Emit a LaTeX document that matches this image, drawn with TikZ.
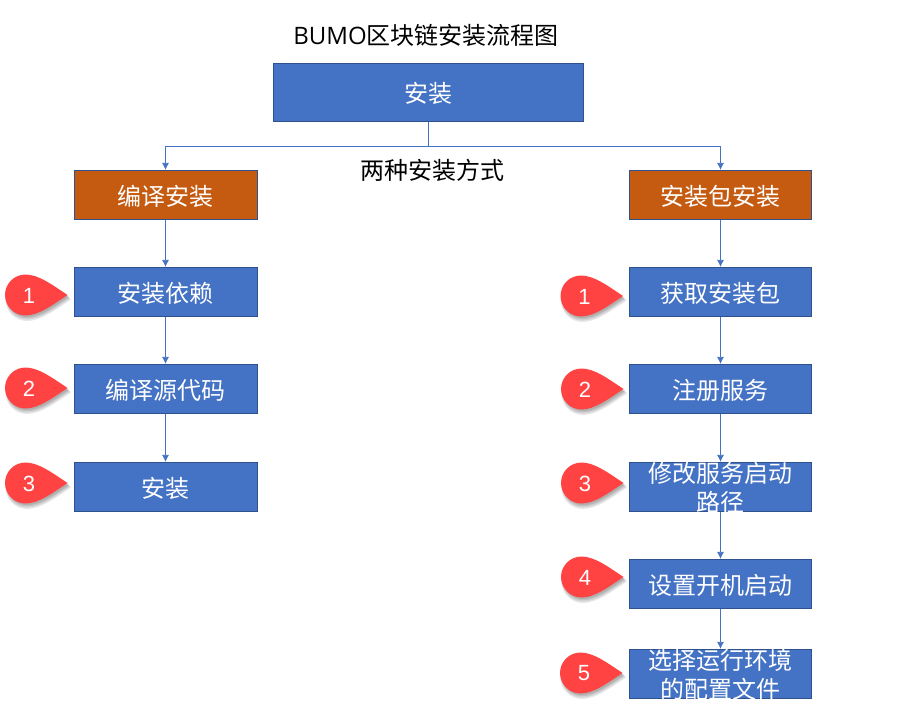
\documentclass[tikz,border=0pt]{standalone}
\usepackage{fontspec}
\setmainfont{Noto Sans CJK SC}
\newfontfamily\latinfont{Open Sans}
\newfontfamily\numfont{Liberation Sans}
\usetikzlibrary{arrows.meta,positioning,calc}
\definecolor{boxblue}{HTML}{4472C4}
\definecolor{boxedge}{HTML}{2F528F}
\definecolor{boxorange}{HTML}{C55A11}
\definecolor{badgered}{HTML}{FF4343}
\def\badgepath{(42pt,0pt) .. controls (27pt,10pt) and (13pt,20.5pt) .. (0pt,20.5pt)
  arc (90:270:20.5pt) .. controls (13pt,-20.5pt) and (27pt,-10pt) .. (42pt,0pt)}

\begin{document}
\begin{tikzpicture}

  \tikzset{
    every node/.style={font=\fontsize{24pt}{29pt}\selectfont},
    stepbox/.style={draw=boxedge,fill=boxblue,text=white,line width=.8pt,
      minimum width=183pt,minimum height=49pt,inner sep=0pt,align=center,
      text height=22pt,text depth=1pt},
    kindbox/.style={stepbox,fill=boxorange},
    boxtext/.style={text=white,align=center,inner sep=0pt,yshift=-1pt},
    myptr/.style={draw=boxblue,line width=.8pt,-{Latex[length=7pt,width=7pt]}},
    badge/.pic={
      % soft shadow below the drop
      \foreach \off/\grow in {4.5pt/1.05,3.5pt/1.03,2.5pt/1.01,1.5pt/1}
        \fill[black,opacity=.09,shift={(1.5pt,-\off)},scale=\grow] \badgepath;
      \fill[badgered] \badgepath;
      \node[text=white,font=\numfont\fontsize{22pt}{24pt}\selectfont] (-num) at (3.5pt,-.5pt) {#1};
    }
  }

  \useasboundingbox (0pt,0pt) rectangle (923pt,-706pt);

  % Title and top box
  \node (title) at (426pt,-35pt) {{\latinfont BUMO}区块链安装流程图};
  \node[stepbox,minimum width=310pt,minimum height=58.5pt] (root) at (428.5pt,-92.5pt) {安装};

  % Two columns
  \node[kindbox] (compile) at (165.5pt,-194.8pt) {编译安装};
  \node[kindbox,minimum width=182.5pt] (package) at (720.5pt,-194.8pt) {安装包安装};
  \node (ways) at (432.5pt,-170pt) {两种安装方式};

  % Left column
  \node[stepbox,below=47.2pt of compile] (deps) {安装依赖};
  \node[stepbox,below=47.2pt of deps] (source) {编译源代码};
  \node[stepbox,below=48.2pt of source] (install) {安装};

  % Right column
  \tikzset{rightbox/.style={stepbox,minimum width=182.5pt}}
  \node[rightbox,below=47.2pt of package] (fetch) {获取安装包};
  \node[rightbox,below=47.2pt of fetch] (service) {注册服务};
  \node[rightbox,below=48.2pt of service] (path) {};
  \node[rightbox,below=47.2pt of path] (boot) {设置开机启动};
  \node[rightbox,below=40.2pt of boot] (config) {};

  % Text that does not fit is cut off by its box
  \begin{scope}
    \clip (path.south west) rectangle (path.north east);
    \node[boxtext] (path text) at (path) {修改服务启动\\路径};
  \end{scope}
  \begin{scope}
    \clip (config.south west) rectangle (config.north east);
    \node[boxtext] (config text) at (config) {选择运行环境\\的配置文件};
  \end{scope}

  % Connectors
  \coordinate (fork) at ($(root.south)+(0pt,-24pt)$);
  \draw[draw=boxblue,line width=.8pt] (root.south) -- (fork);
  \draw[myptr] (fork) -| (compile.north);
  \draw[myptr] (fork) -| (package.north);
  \draw[myptr] (compile) -- (deps);
  \draw[myptr] (deps) -- (source);
  \draw[myptr] (source) -- (install);
  \draw[myptr] (package) -- (fetch);
  \draw[myptr] (fetch) -- (service);
  \draw[myptr] (service) -- (path);
  \draw[myptr] (path) -- (boot);
  \draw[myptr] (boot) -- (config);

  % Numbered badges
  \pic (a1) at (25.5pt,-295pt) {badge=1};
  \pic (a2) at (25.5pt,-388pt) {badge=2};
  \pic (a3) at (25.5pt,-483pt) {badge=3};
  \pic (b1) at (581pt,-296pt) {badge=1};
  \pic (b2) at (581.5pt,-389pt) {badge=2};
  \pic (b3) at (581.5pt,-483pt) {badge=3};
  \pic (b4) at (581.5pt,-577pt) {badge=4};
  \pic (b5) at (580.5pt,-673pt) {badge=5};

\end{tikzpicture}
\end{document}
